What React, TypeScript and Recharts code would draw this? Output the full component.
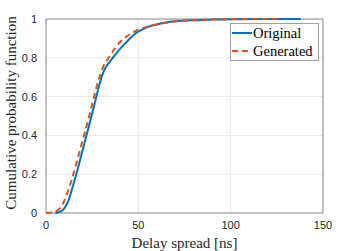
import { LineChart, Line, XAxis, YAxis, CartesianGrid, ReferenceArea } from 'recharts'

// delay spread [ns] and CDF values
const originalDelay = [5, 8, 10, 12, 14, 17, 20, 23, 26, 29, 31, 33, 35, 37, 40, 43, 46, 49, 52, 56, 60, 65, 70, 80, 90, 100, 120, 138]
const originalCdf = [0, 0.008, 0.025, 0.06, 0.12, 0.22, 0.33, 0.44, 0.55, 0.665, 0.725, 0.76, 0.785, 0.81, 0.845, 0.875, 0.905, 0.93, 0.945, 0.962, 0.972, 0.982, 0.988, 0.994, 0.997, 0.999, 1, 1]

const generatedDelay = [0, 3, 6, 8, 10, 12, 14, 16, 19, 22, 25, 28, 31, 34, 37, 40, 43, 46, 50, 54, 58, 63, 70, 80, 90, 100, 110, 126]
const generatedCdf = [0, 0.002, 0.012, 0.03, 0.065, 0.115, 0.175, 0.24, 0.345, 0.45, 0.56, 0.67, 0.755, 0.8, 0.845, 0.88, 0.905, 0.925, 0.945, 0.958, 0.968, 0.978, 0.987, 0.994, 0.997, 0.999, 1, 1]

const xTicks = [0, 50, 100, 150]
const yTicks = [0, 0.2, 0.4, 0.6, 0.8, 1]

const seriesNames = ['Original', 'Generated']

const BLUE = '#0072BD'
const RED = '#D95319'

const originalData = originalDelay.map((d, i) => ({ delay: d, cdf: originalCdf[i] }))
const generatedData = generatedDelay.map((d, i) => ({ delay: d, cdf: generatedCdf[i] }))

function LegendBox() {
  const row = (name: string, color: string, dashed: boolean) => (
    <div style={{ display: 'flex', alignItems: 'center', height: 18 }}>
      <svg width={20} height={6} style={{ marginRight: 1 }}>
        <line x1={0} y1={3} x2={20} y2={3} stroke={color} strokeWidth={2} strokeDasharray={dashed ? '6 4' : undefined} />
      </svg>
      <span>{name}</span>
    </div>
  )
  return (
    <div
      style={{
        position: 'absolute',
        left: 230,
        top: 23,
        width: 86,
        height: 36,
        border: '1px solid #a0a0a0',
        background: '#fff',
        fontFamily: '"Liberation Serif", serif',
        fontSize: 14.5,
        color: '#000',
        paddingLeft: 1,
        boxSizing: 'content-box',
        lineHeight: '18px',
      }}
    >
      {row(seriesNames[0], BLUE, false)}
      {row(seriesNames[1], RED, true)}
    </div>
  )
}

export default function App() {
  return (
    <div style={{ position: 'absolute', left: 0, top: 0, width: 357, height: 251, background: '#fff' }}>
      <LineChart width={357} height={251} margin={{ top: 19, right: 34, left: 0, bottom: 0 }}>
        <CartesianGrid stroke="#e8e8e8" strokeWidth={1} />
        <XAxis
          type="number"
          dataKey="delay"
          domain={[0, 150]}
          ticks={xTicks}
          height={38}
          tickLine={false}
          axisLine={false}
          allowDuplicatedCategory={false}
          tick={{ fontSize: 11, fill: '#262626', fontFamily: '"Liberation Sans", sans-serif' }}
          tickMargin={2}
          label={{
            value: 'Delay spread [ns]',
            position: 'insideBottom',
            offset: 3,
            style: { fontSize: 15, fill: '#262626', fontFamily: '"Liberation Serif", serif' },
          }}
        />
        <YAxis
          type="number"
          domain={[0, 1]}
          ticks={yTicks}
          width={46}
          tickLine={false}
          axisLine={false}
          tick={{ fontSize: 11, fill: '#262626', fontFamily: '"Liberation Sans", sans-serif' }}
          tickMargin={3}
          label={{
            value: 'Cumulative probability function',
            angle: -90,
            position: 'center',
            dx: -12,
            dy: -3,
            style: { fontSize: 15, fill: '#262626', fontFamily: '"Liberation Serif", serif', textAnchor: 'middle' },
          }}
        />
        <ReferenceArea x1={0} x2={150} y1={0} y2={1} fill="none" stroke="#8c8c8c" strokeWidth={1} />
        <Line
          data={originalData}
          dataKey="cdf"
          name={seriesNames[0]}
          type="monotone"
          stroke={BLUE}
          strokeWidth={2}
          dot={false}
          isAnimationActive={false}
        />
        <Line
          data={generatedData}
          dataKey="cdf"
          name={seriesNames[1]}
          type="monotone"
          stroke={RED}
          strokeWidth={2}
          strokeDasharray="6 4"
          dot={false}
          isAnimationActive={false}
        />
      </LineChart>
      <LegendBox />
    </div>
  )
}
